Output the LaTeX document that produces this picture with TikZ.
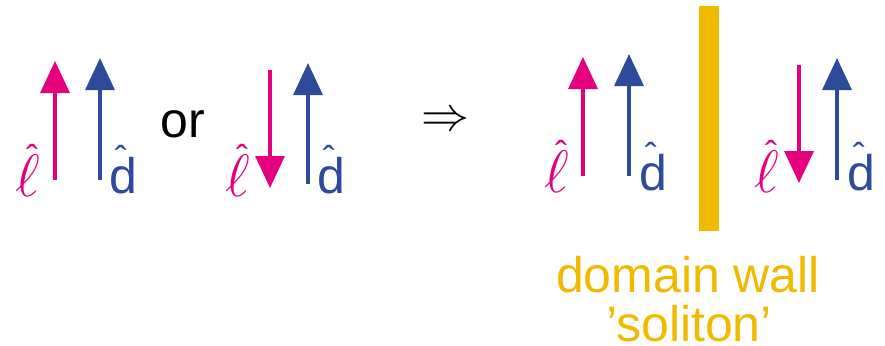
\RequirePackage{fix-cm}
\documentclass[tikz,border=0pt]{standalone}
\usepackage{fontspec}
\setmainfont{Liberation Sans}
\usetikzlibrary{arrows.meta}
\definecolor{pinkc}{HTML}{E5007D}
\definecolor{bluec}{HTML}{2E4A9B}
\definecolor{yellowc}{HTML}{F0BA00}
\newcommand{\hatglyph}{{\fontsize{36}{36}\selectfont ˆ}}
\newcommand{\lhat}{\makebox[0pt][l]{\kern 11pt\raisebox{25.5pt}{\hatglyph}}{\fontsize{60}{60}\selectfont$\ell$}}
\newcommand{\dhat}{\makebox[0pt][l]{\kern 5.7pt\raisebox{22pt}{\hatglyph}}d}
\tikzset{
  vec/.style={line width=3.4pt, -{Triangle[length=32pt,width=29pt]}},
  lvec/.style={vec, pinkc},
  dvec/.style={vec, bluec},
  lab/.style={inner sep=0pt, font=\fontsize{50}{60}\selectfont},
  llab/.style={lab, text=pinkc, anchor=base west},
  dlab/.style={lab, text=bluec, anchor=base west},
  walltext/.style={lab, text=yellowc, anchor=base},
}
\begin{document}
\begin{tikzpicture}[x=1pt,y=-1pt]
\useasboundingbox (0,0) rectangle (885,345);
% left pair 1
\coordinate (a1s) at (55,180); \coordinate (a1e) at (55,61);
\coordinate (b1s) at (100,180); \coordinate (b1e) at (100,58);
\draw[lvec] (a1s) -- (a1e);
\draw[dvec] (b1s) -- (b1e);
\node[llab] (l1) at (15,196) {\lhat};
\node[dlab] (d1) at (109,193) {\dhat};
\node[lab, anchor=base west] (or) at (160,137) {or};
% left pair 2
\coordinate (a2s) at (270,70); \coordinate (a2e) at (270,188);
\coordinate (b2s) at (308,184); \coordinate (b2e) at (308,63);
\draw[lvec] (a2s) -- (a2e);
\draw[dvec] (b2s) -- (b2e);
\node[llab] (l2) at (225,196) {\lhat};
\node[dlab] (d2) at (317,193) {\dhat};
% implies
\node[inner sep=0pt, font=\fontsize{48}{50}\selectfont] (imp) at (445,122) {$\Rightarrow$};
% right pair 1
\coordinate (a3s) at (583,176); \coordinate (a3e) at (583,57);
\coordinate (b3s) at (629,176); \coordinate (b3e) at (629,54);
\draw[lvec] (a3s) -- (a3e);
\draw[dvec] (b3s) -- (b3e);
\node[llab] (l3) at (544,192) {\lhat};
\node[dlab] (d3) at (639,190) {\dhat};
% wall
\fill[yellowc] (699,6) rectangle (719,231);
% right pair 2
\coordinate (a4s) at (799,65); \coordinate (a4e) at (799,183);
\coordinate (b4s) at (837,180); \coordinate (b4e) at (837,58);
\draw[lvec] (a4s) -- (a4e);
\draw[dvec] (b4s) -- (b4e);
\node[llab] (l4) at (754,192) {\lhat};
\node[dlab] (d4) at (847,190) {\dhat};
% labels
\node[walltext] (w1) at (688,292) {domain wall};
\node[walltext] (w2) at (689,341) {’soliton’};
\end{tikzpicture}
\end{document}
